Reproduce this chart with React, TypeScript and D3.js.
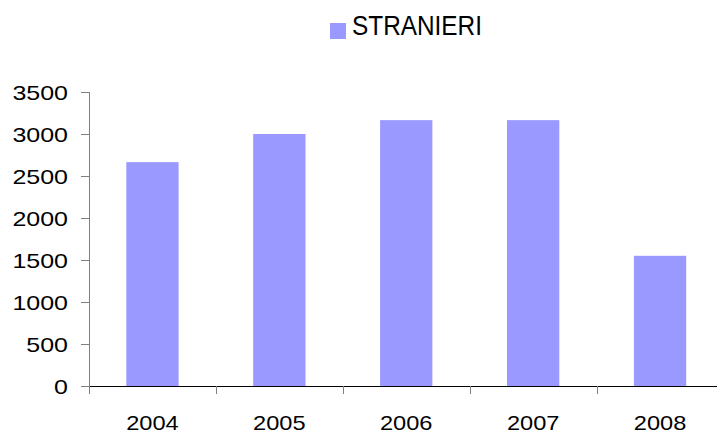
import React, { useEffect, useRef } from 'react';
import * as d3 from 'd3';

// chart data
const years = ['2004', '2005', '2006', '2007', '2008'];
const stranieri = [2665, 3000, 3165, 3165, 1550];
const yTicks = [0, 500, 1000, 1500, 2000, 2500, 3000, 3500];
const seriesName = 'STRANIERI';

const App = () => {
  const svgRef = useRef<SVGSVGElement>(null);

  useEffect(() => {
    const svg = d3.select(svgRef.current);
    svg.selectAll('*').remove();

    const width = 717;
    const height = 434;
    const font = 'Liberation Sans, Arial, sans-serif';

    svg.attr('width', width).attr('height', height);

    // scales
    const x = d3.scaleBand<string>()
      .domain(years)
      .range([89, 89 + 5 * 126.9])
      .padding(0);

    const y = d3.scaleLinear()
      .domain([0, 3500])
      .range([386, 92]);

    const barW = x.bandwidth() * 0.412;

    // bars
    svg.append('g')
      .selectAll('rect')
      .data(stranieri)
      .enter().append('rect')
      .attr('x', (d, i) => x(years[i])! + (x.bandwidth() - barW) / 2)
      .attr('y', d => y(d))
      .attr('width', barW)
      .attr('height', d => y(0) - y(d))
      .attr('fill', '#9999FF');

    // y axis
    const yAxis = svg.append('g');
    yAxis.append('line')
      .attr('x1', 89.5).attr('x2', 89.5)
      .attr('y1', y(3500)).attr('y2', 394)
      .attr('stroke', '#808080').attr('stroke-width', 1);

    yAxis.selectAll('line.tick')
      .data(yTicks)
      .enter().append('line')
      .attr('class', 'tick')
      .attr('x1', 81).attr('x2', 89)
      .attr('y1', d => Math.round(y(d)) + 0.5)
      .attr('y2', d => Math.round(y(d)) + 0.5)
      .attr('stroke', '#808080');

    yAxis.selectAll('text')
      .data(yTicks)
      .enter().append('text')
      .attr('x', 68)
      .attr('y', d => y(d) + 7.5)
      .attr('text-anchor', 'end')
      .attr('font-family', font)
      .attr('font-size', 21)
      .attr('textLength', d => String(d).length * 13.9)
      .attr('lengthAdjust', 'spacingAndGlyphs')
      .attr('fill', '#000')
      .text(d => d);

    // x axis
    const xAxis = svg.append('g');
    xAxis.append('line')
      .attr('x1', 89).attr('x2', width)
      .attr('y1', 386.5).attr('y2', 386.5)
      .attr('stroke', '#000').attr('stroke-width', 1);

    xAxis.selectAll('line.tick')
      .data(years)
      .enter().append('line')
      .attr('class', 'tick')
      .attr('x1', d => Math.round(x(d)!) + 0.5)
      .attr('x2', d => Math.round(x(d)!) + 0.5)
      .attr('y1', 386).attr('y2', 394)
      .attr('stroke', '#808080');

    xAxis.selectAll('text')
      .data(years)
      .enter().append('text')
      .attr('x', d => x(d)! + x.bandwidth() / 2)
      .attr('y', 429.5)
      .attr('text-anchor', 'middle')
      .attr('font-family', font)
      .attr('font-size', 21)
      .attr('textLength', 52.5)
      .attr('lengthAdjust', 'spacingAndGlyphs')
      .attr('fill', '#000')
      .text(d => d);

    // legend
    const legend = svg.append('g');
    legend.append('rect')
      .attr('x', 330).attr('y', 23)
      .attr('width', 16).attr('height', 16)
      .attr('fill', '#9999FF');
    legend.append('text')
      .attr('x', 352)
      .attr('y', 35)
      .attr('font-family', font)
      .attr('font-size', 27)
      .attr('textLength', 130)
      .attr('lengthAdjust', 'spacingAndGlyphs')
      .attr('fill', '#000')
      .text(seriesName);
  }, []);

  return (
    <svg
      ref={svgRef}
      style={{ position: 'absolute', left: 0, top: 0, background: '#fff' }}
    />
  );
};

export default App;
